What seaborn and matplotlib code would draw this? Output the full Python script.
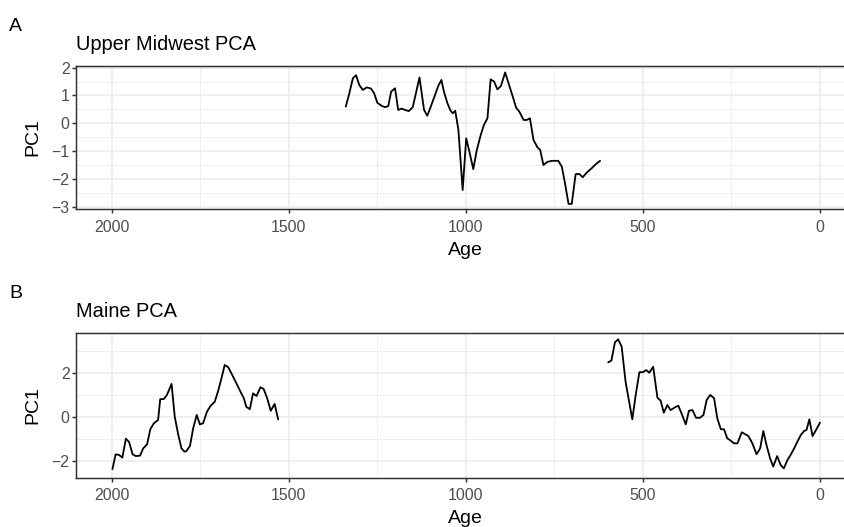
import matplotlib
matplotlib.use("Agg")
import matplotlib.pyplot as plt
import pandas as pd
import seaborn as sns
from matplotlib.ticker import FixedLocator

# Upper Midwest PCA: first principal component by age
upper_age = [1339, 1329, 1319, 1310, 1301, 1291, 1280, 1268, 1259, 1250, 1238,
             1228, 1219, 1211, 1200, 1191, 1181, 1172, 1161, 1150, 1141, 1131,
             1118, 1109, 1099, 1087, 1078, 1069, 1062, 1052, 1043, 1037, 1030,
             1021, 1009, 999, 990, 979, 969, 958, 949, 939, 930, 920, 911, 901,
             889, 878, 867, 858, 849, 837, 828, 819, 809, 798, 790, 781, 770,
             757, 739, 729, 720, 710, 701, 690, 680, 670, 659, 645, 633, 621]
upper_pc1 = [0.60, 1.08, 1.62, 1.73, 1.38, 1.20, 1.29, 1.25, 1.08, 0.74, 0.63,
             0.58, 0.62, 1.14, 1.26, 0.48, 0.53, 0.48, 0.44, 0.58, 1.08, 1.65,
             0.48, 0.27, 0.60, 1.02, 1.34, 1.56, 1.14, 0.72, 0.45, 0.36, 0.45,
             -0.24, -2.40, -0.54, -1.02, -1.65, -0.96, -0.42, -0.06, 0.18, 1.58,
             1.50, 1.22, 1.34, 1.83, 1.38, 0.94, 0.56, 0.42, 0.12, 0.12, 0.18,
             -0.60, -0.86, -0.96, -1.50, -1.39, -1.35, -1.35, -1.56, -2.16,
             -2.90, -2.90, -1.83, -1.82, -1.94, -1.78, -1.62, -1.47, -1.35]

# Maine PCA: two records separated by a gap in coverage
maine_age = [1998, 1989, 1979, 1970, 1960, 1951, 1941, 1932, 1920, 1911, 1900,
             1891, 1881, 1869, 1863, 1853, 1844, 1831, 1822, 1812, 1803, 1795,
             1789, 1779, 1770, 1760, 1751, 1742, 1731, 1721, 1709, 1700, 1690,
             1681, 1671, 1662, 1648, 1634, 1627, 1620, 1610, 1601, 1591, 1580,
             1571, 1561, 1551, 1540, 1530,
             598, 589, 579, 570, 560, 549, 530, 520, 510, 499, 491, 482, 471,
             459, 450, 441, 431, 422, 409, 400, 391, 379, 370, 360, 350, 339,
             329, 320, 310, 299, 290, 280, 271, 262, 252, 243, 233, 221, 212,
             202, 191, 179, 169, 160, 151, 141, 132, 121, 111, 102, 92, 83, 73,
             64, 54, 45, 38, 30, 21, 11, 0]
maine_pc1 = [-2.39, -1.71, -1.74, -1.86, -1.00, -1.15, -1.71, -1.79, -1.77,
             -1.44, -1.25, -0.57, -0.30, -0.15, 0.80, 0.80, 0.99, 1.49, 0.00,
             -0.83, -1.44, -1.59, -1.56, -1.33, -0.53, 0.08, -0.35, -0.30, 0.23,
             0.49, 0.68, 1.14, 1.75, 2.35, 2.25, 1.97, 1.52, 1.06, 0.84, 0.45,
             0.34, 1.06, 0.94, 1.34, 1.26, 0.84, 0.27, 0.58, -0.12,
             2.47, 2.55, 3.38, 3.52, 3.18, 1.59, -0.12, 1.03, 2.02, 2.03, 2.12,
             2.00, 2.27, 0.86, 0.73, 0.18, 0.53, 0.30, 0.43, 0.50, 0.15, -0.35,
             0.27, 0.30, -0.05, -0.05, 0.08, 0.76, 0.99, 0.84, -0.07, -0.57,
             -0.57, -0.98, -1.09, -1.21, -1.21, -0.71, -0.79, -0.88, -1.21,
             -1.71, -1.44, -0.65, -1.29, -1.89, -2.27, -1.79, -2.20, -2.35,
             -1.97, -1.74, -1.44, -1.14, -0.83, -0.65, -0.60, -0.12, -0.88,
             -0.60, -0.27]

x_ticks = [2000, 1500, 1000, 500, 0]
x_minor = [1750, 1250, 750, 250]

upper = pd.DataFrame({"Age": upper_age, "PC1": upper_pc1})
maine = pd.DataFrame({"Age": maine_age, "PC1": maine_pc1})
maine["record"] = ["early" if a > 1000 else "late" for a in maine["Age"]]

sns.set_theme(style="white")
plt.rcParams["font.family"] = ["Liberation Sans", "DejaVu Sans"]
plt.rcParams["text.color"] = "black"

W, H = 844, 527
fig = plt.figure(figsize=(W / 100, H / 100), dpi=100)

dark = "#333333"
grid = "#EBEBEB"


def style_axes(ax, ylim, yticks, yminor, age_y):
    ax.set_xlim(2100, -100)
    ax.set_ylim(*ylim)
    ax.xaxis.set_major_locator(FixedLocator(x_ticks))
    ax.xaxis.set_minor_locator(FixedLocator(x_minor))
    ax.yaxis.set_major_locator(FixedLocator(yticks))
    ax.yaxis.set_minor_locator(FixedLocator(yminor))
    ax.set_xticklabels([str(t) for t in x_ticks])
    ax.grid(True, which="major", color=grid, linewidth=1.1, zorder=0)
    ax.grid(True, which="minor", color=grid, linewidth=0.6, zorder=0)
    ax.set_axisbelow(True)
    for s in ax.spines.values():
        s.set_visible(True)
        s.set_color(dark)
        s.set_linewidth(1.07)
    ax.tick_params(which="major", length=2.75, width=1.07, color=dark,
                   labelcolor="#4D4D4D", labelsize=11.4,
                   left=True, bottom=True)
    ax.tick_params(axis="y", which="major", pad=2.0)
    ax.tick_params(axis="x", which="major", pad=5.0)
    ax.tick_params(which="minor", length=0)
    ax.set_xlabel("Age", fontsize=14, color="black")
    ax.set_ylabel("PC1", fontsize=14, color="black")
    ax.xaxis.label.set_va("center")
    ax.yaxis.label.set_va("center")
    ax.xaxis.set_label_coords(0.5, age_y)
    ax.yaxis.set_label_coords(-(76.3 - 33) / 779.1, 0.5)


axA = fig.add_axes([76.3 / W, (H - 209) / H, 779.1 / W, 143.3 / H])
sns.lineplot(data=upper, x="Age", y="PC1", color="black", linewidth=1.3,
             estimator=None, sort=False, ax=axA)
style_axes(axA, (-3.083, 2.072), [-3, -2, -1, 0, 1, 2],
           [-2.5, -1.5, -0.5, 0.5, 1.5], (209 - 250.5) / 143.3)
axA.set_title("Upper Midwest PCA", loc="left", fontsize=14.4, pad=11.5,
              color="black")

axB = fig.add_axes([76.3 / W, (H - 477.7) / H, 779.1 / W, 145 / H])
sns.lineplot(data=maine, x="Age", y="PC1", units="record", color="black",
             linewidth=1.3, estimator=None, sort=False, ax=axB)
style_axes(axB, (-2.773, 3.818), [-2, 0, 2], [-1, 1, 3],
           (477.7 - 518.5) / 145)
axB.set_title("Maine PCA", loc="left", fontsize=14.4, pad=11.5,
              color="black")

fig.text(9 / W, 1 - 30.7 / H, "A", fontsize=14, ha="left", va="baseline",
         color="black")
fig.text(9 / W, 1 - 297.7 / H, "B", fontsize=14, ha="left", va="baseline",
         color="black")

fig.savefig("out.png", dpi=100)
